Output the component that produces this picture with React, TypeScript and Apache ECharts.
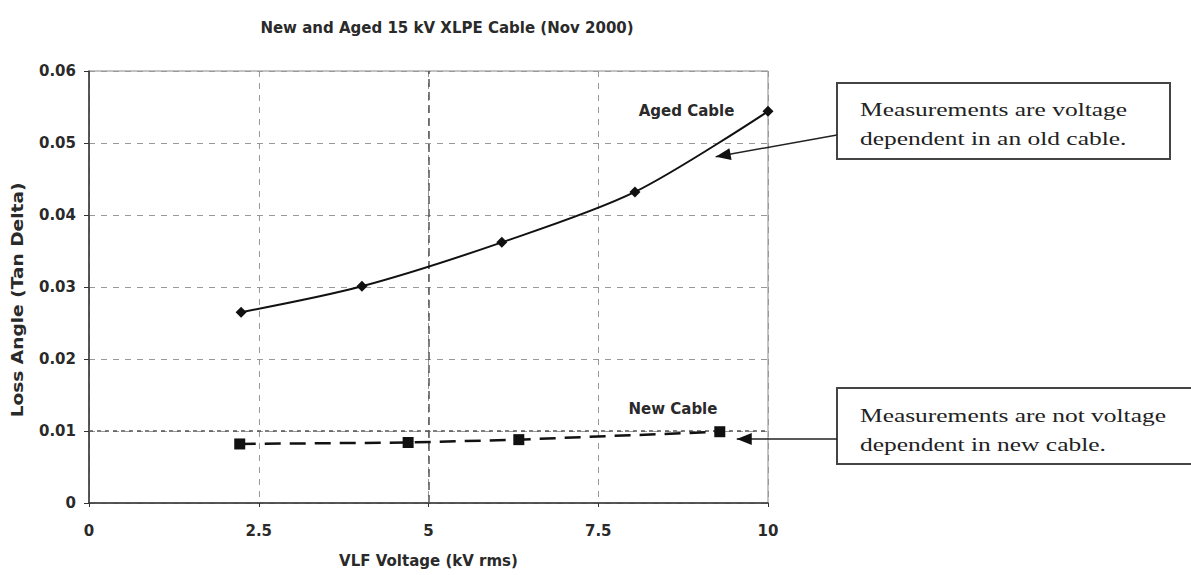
import React, { useEffect, useRef } from "react";
import * as echarts from "echarts";

const titleText = "New and Aged 15 kV XLPE Cable (Nov 2000)";
const xAxisName = "VLF Voltage (kV rms)";
const yAxisName = "Loss Angle (Tan Delta)";

const agedX = [2.24, 4.02, 6.08, 8.04, 10.0];
const agedY = [0.0265, 0.0301, 0.0362, 0.0432, 0.0544];
const newX = [2.22, 4.7, 6.33, 9.29];
const newY = [0.0082, 0.0084, 0.0088, 0.0099];

const agedLabel = "Aged Cable";
const newLabel = "New Cable";
const noteAged = ["Measurements are voltage", "dependent in an old cable."];
const noteNew = ["Measurements are not voltage", "dependent in new cable."];

const SANS = "'DejaVu Sans', 'Liberation Sans', Arial, sans-serif";
const SERIF = "'Liberation Serif', 'Times New Roman', serif";

export default function App() {
  const ref = useRef<HTMLDivElement>(null);
  useEffect(() => {
    document.body.style.margin = "0";
    const chart = echarts.init(ref.current!, null, { renderer: "svg" });
    const option: any = {
      animation: false,
      backgroundColor: "#ffffff",
      title: {
        text: titleText,
        left: 442,
        top: 15,
        textAlign: "center",
        textStyle: { fontFamily: SANS, fontSize: 15, fontWeight: "bold", color: "#2a2a2a" },
      },
      grid: {
        left: 89,
        right: 423,
        top: 71,
        bottom: 72,
        show: true,
        borderColor: "#888",
        borderWidth: 1,
      },
      xAxis: {
        type: "value",
        min: 0,
        max: 10,
        interval: 2.5,
        name: xAxisName,
        nameLocation: "middle",
        nameGap: 50,
        nameTextStyle: { fontFamily: SANS, fontSize: 15, fontWeight: "bold", color: "#2a2a2a" },
        axisLine: { show: true, lineStyle: { color: "#333", width: 1.5 } },
        axisTick: { show: true, length: 4, lineStyle: { color: "#333" } },
        axisLabel: {
          fontFamily: SANS,
          fontSize: 15,
          fontWeight: "bold",
          color: "#2a2a2a",
          margin: 20,
          formatter: (v: number) => String(v),
        },
        splitLine: { show: true, lineStyle: { color: "#999", type: [6, 6], width: 1 } },
      },
      yAxis: {
        type: "value",
        min: 0,
        max: 0.06,
        interval: 0.01,
        axisLine: { show: true, lineStyle: { color: "#333", width: 1.5 } },
        axisTick: { show: true, length: 5, lineStyle: { color: "#333" } },
        axisLabel: {
          fontFamily: SANS,
          fontSize: 15,
          fontWeight: "bold",
          color: "#2a2a2a",
          margin: 13,
          formatter: (v: number) => (v === 0 ? "0" : v.toFixed(2)),
        },
        splitLine: { show: true, lineStyle: { color: "#999", type: [6, 6], width: 1 } },
      },
      series: [
        {
          name: agedLabel,
          type: "line",
          data: agedX.map((x, i) => [x, agedY[i]]),
          smooth: 0.3,
          symbol: "diamond",
          symbolSize: 11,
          lineStyle: { color: "#111", width: 2 },
          itemStyle: { color: "#111" },
          z: 5,
          markLine: {
            silent: true,
            symbol: "none",
            label: { show: false },
            data: [
              { xAxis: 5, lineStyle: { color: "#555", type: [8, 5], width: 1.5 } },
              { yAxis: 0.01, lineStyle: { color: "#555", type: [4, 4], width: 1.5 } },
            ],
          },
        },
        {
          name: newLabel,
          type: "line",
          data: newX.map((x, i) => [x, newY[i]]),
          symbol: "rect",
          symbolSize: 11,
          lineStyle: { color: "#111", width: 2.5, type: [16, 9] },
          itemStyle: { color: "#111" },
          z: 5,
        },
      ],
    };
    chart.setOption(option);

    const p = (x: number, y: number) => chart.convertToPixel({ gridIndex: 0 }, [x, y]) as number[];
    const agedLbl = p(8.8, 0.0545);
    const newLbl = p(8.6, 0.0131);
    const tipAged = p(9.23, 0.0481);
    const tipNew = p(9.54, 0.0089);
    const yMid = p(0, 0.0282);

    const boxL = 837;
    const topBox = { y: 83, h: 76, w: 333 };
    const botBox = { y: 388, h: 76, w: 360 };
    const fromAged = [boxL, 135];
    const fromNew = [boxL, tipNew[1]];

    const arrowHead = (tip: number[], from: number[]) => {
      const dx = from[0] - tip[0];
      const dy = from[1] - tip[1];
      const len = Math.hypot(dx, dy);
      const ux = dx / len;
      const uy = dy / len;
      const L = 15;
      const W = 6;
      const bx = tip[0] + ux * L;
      const by = tip[1] + uy * L;
      return [
        [tip[0], tip[1]],
        [bx - uy * W, by + ux * W],
        [bx + uy * W, by - ux * W],
      ];
    };

    const noteText = (lines: string[], x: number, y: number) => ({
      type: "text",
      x,
      y,
      scaleX: 1.34,
      style: {
        text: lines.join("\n"),
        fontFamily: SERIF,
        fontSize: 19,
        lineHeight: 29,
        fill: "#222",
      },
    });

    const labelText = (text: string, pt: number[]) => ({
      type: "text",
      x: pt[0],
      y: pt[1],
      style: {
        text,
        fontFamily: SANS,
        fontSize: 15,
        fontWeight: "bold",
        fill: "#2a2a2a",
        textAlign: "center",
        textVerticalAlign: "middle",
      },
    });

    chart.setOption({
      graphic: [
        {
          type: "text",
          x: 18,
          y: yMid[1],
          rotation: Math.PI / 2,
          scaleX: 1.24,
          style: {
            text: yAxisName,
            fontFamily: SANS,
            fontSize: 15,
            fontWeight: "bold",
            fill: "#2a2a2a",
            textAlign: "center",
            textVerticalAlign: "middle",
          },
        },
        labelText(agedLabel, agedLbl),
        labelText(newLabel, newLbl),
        {
          type: "rect",
          shape: { x: boxL, y: topBox.y, width: topBox.w, height: topBox.h },
          style: { fill: "#fff", stroke: "#444", lineWidth: 2 },
        },
        noteText(noteAged, boxL + 23, topBox.y + 12),
        {
          type: "rect",
          shape: { x: boxL, y: botBox.y, width: botBox.w, height: botBox.h },
          style: { fill: "#fff", stroke: "#444", lineWidth: 2 },
        },
        noteText(noteNew, boxL + 23, botBox.y + 13),
        {
          type: "line",
          shape: { x1: fromAged[0], y1: fromAged[1], x2: tipAged[0], y2: tipAged[1] },
          style: { stroke: "#222", lineWidth: 1.5 },
        },
        {
          type: "polygon",
          shape: { points: arrowHead(tipAged, fromAged) },
          style: { fill: "#111" },
        },
        {
          type: "line",
          shape: { x1: fromNew[0], y1: fromNew[1], x2: tipNew[0], y2: tipNew[1] },
          style: { stroke: "#222", lineWidth: 1.5 },
        },
        {
          type: "polygon",
          shape: { points: arrowHead(tipNew, fromNew) },
          style: { fill: "#111" },
        },
      ],
    });

    return () => chart.dispose();
  }, []);
  return <div ref={ref} style={{ width: 1191, height: 575 }} />;
}
